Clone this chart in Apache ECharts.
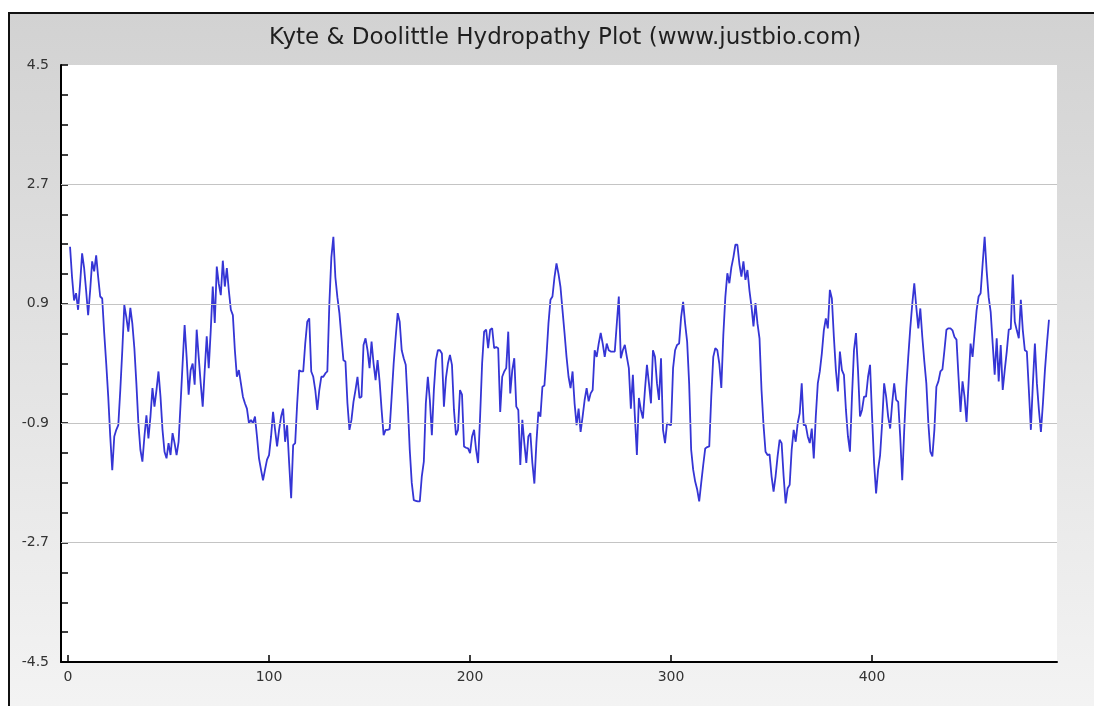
<!DOCTYPE html>
<html>
<head>
<meta charset="utf-8">
<script src="https://cdn.jsdelivr.net/npm/echarts@6/dist/echarts.min.js"></script>
<style>html,body{margin:0;padding:0;background:#fff}#c{width:1094px;height:706px}</style>
</head>
<body>
<div id="c"></div>
<script>
const TITLE = 'Kyte & Doolittle Hydropathy Plot (www.justbio.com)';
const START_POS = 1;
const xTickLabels = [0, 100, 200, 300, 400];
const yTickLabels = [-4.5, -2.7, -0.9, 0.9, 2.7, 4.5];
const yGridLines = [-2.7, -0.9, 0.9, 2.7];
const hydropathy = [
1.76,1.3,0.95,1.06,0.81,1.2,1.66,1.44,1.1,0.73,
1.1,1.54,1.39,1.63,1.3,1.01,0.98,0.46,0.0,-0.5,
-1.1,-1.61,-1.1,-1.0,-0.93,-0.4,0.2,0.88,0.7,0.48,
0.84,0.6,0.23,-0.3,-0.9,-1.3,-1.48,-1.1,-0.78,-1.13,
-0.8,-0.37,-0.65,-0.4,-0.12,-0.5,-1.0,-1.33,-1.43,-1.2,
-1.38,-1.05,-1.2,-1.38,-1.18,-0.6,0.0,0.58,0.1,-0.47,
-0.1,0.0,-0.32,0.51,0.1,-0.3,-0.65,-0.1,0.41,-0.07,
0.5,1.16,0.61,1.46,1.2,1.03,1.55,1.16,1.44,1.1,
0.81,0.73,0.2,-0.2,-0.1,-0.3,-0.5,-0.6,-0.68,-0.9,
-0.85,-0.9,-0.8,-1.1,-1.43,-1.6,-1.76,-1.6,-1.45,-1.38,
-1.1,-0.73,-1.0,-1.25,-1.0,-0.8,-0.68,-1.18,-0.93,-1.5,
-2.03,-1.23,-1.2,-0.6,-0.1,-0.12,-0.12,0.3,0.63,0.68,
-0.12,-0.2,-0.4,-0.7,-0.4,-0.2,-0.2,-0.15,-0.12,0.9,
1.6,1.91,1.3,1.0,0.76,0.4,0.05,0.03,-0.6,-1.0,
-0.85,-0.58,-0.4,-0.2,-0.52,-0.5,0.28,0.38,0.2,-0.07,
0.33,0.0,-0.25,0.05,-0.27,-0.7,-1.08,-1.0,-1.0,-0.99,
-0.5,0.0,0.4,0.76,0.63,0.2,0.08,-0.02,-0.6,-1.3,
-1.8,-2.06,-2.07,-2.08,-2.08,-1.7,-1.48,-0.6,-0.2,-0.55,
-1.08,-0.4,0.05,0.2,0.2,0.15,-0.65,-0.22,0.0,0.13,
-0.02,-0.7,-1.08,-1.0,-0.4,-0.47,-1.25,-1.27,-1.28,-1.35,
-1.1,-1.0,-1.3,-1.5,-0.8,0.0,0.48,0.51,0.23,0.51,
0.53,0.23,0.25,0.23,-0.73,-0.2,-0.12,-0.07,0.48,-0.45,
-0.1,0.08,-0.65,-0.7,-1.53,-0.85,-1.2,-1.5,-1.1,-1.05,
-1.5,-1.81,-1.2,-0.73,-0.8,-0.35,-0.33,0.1,0.6,0.96,
1.01,1.3,1.51,1.35,1.15,0.8,0.46,0.1,-0.2,-0.37,
-0.12,-0.6,-0.93,-0.68,-1.03,-0.8,-0.55,-0.37,-0.57,-0.45,
-0.4,0.2,0.1,0.3,0.46,0.3,0.1,0.3,0.2,0.18,
0.18,0.18,0.6,1.01,0.08,0.2,0.28,0.1,-0.07,-0.68,
-0.17,-0.8,-1.38,-0.52,-0.7,-0.83,-0.4,-0.02,-0.3,-0.6,
0.2,0.1,-0.3,-0.55,0.08,-1.0,-1.2,-0.9,-0.92,-0.93,
-0.07,0.2,0.28,0.3,0.7,0.93,0.6,0.33,-0.3,-1.3,
-1.6,-1.78,-1.9,-2.08,-1.8,-1.53,-1.28,-1.26,-1.25,-0.5,
0.1,0.23,0.2,0.0,-0.37,0.43,1.0,1.36,1.21,1.45,
1.6,1.79,1.79,1.5,1.31,1.54,1.26,1.41,1.1,0.86,
0.56,0.91,0.6,0.38,-0.4,-0.93,-1.33,-1.38,-1.37,-1.7,
-1.93,-1.7,-1.4,-1.15,-1.2,-1.7,-2.11,-1.88,-1.83,-1.3,
-1.0,-1.18,-0.9,-0.75,-0.3,-0.93,-0.93,-1.1,-1.2,-0.98,
-1.43,-0.8,-0.3,-0.12,0.15,0.5,0.68,0.53,1.11,0.98,
0.4,-0.1,-0.42,0.18,-0.1,-0.17,-0.7,-1.1,-1.33,-0.5,
0.2,0.46,-0.1,-0.8,-0.7,-0.5,-0.5,-0.2,-0.02,-0.8,
-1.5,-1.96,-1.6,-1.38,-0.9,-0.3,-0.5,-0.8,-0.98,-0.6,
-0.3,-0.55,-0.58,-1.1,-1.76,-1.0,-0.37,0.1,0.53,0.9,
1.21,0.85,0.53,0.83,0.4,0.03,-0.3,-0.9,-1.33,-1.4,
-1.0,-0.35,-0.27,-0.12,-0.09,0.2,0.51,0.53,0.53,0.5,
0.4,0.36,-0.2,-0.73,-0.27,-0.5,-0.88,-0.3,0.3,0.1,
0.46,0.8,1.01,1.06,1.5,1.91,1.4,1.0,0.78,0.3,
-0.17,0.38,-0.27,0.28,-0.4,-0.1,0.18,0.51,0.52,1.34,
0.63,0.5,0.38,0.96,0.5,0.2,0.18,-0.4,-1.0,-0.3,
0.3,-0.3,-0.7,-1.03,-0.6,-0.1,0.3,0.66
];

const seriesData = hydropathy.map((v, i) => [START_POS + i, v]);
const yMinorTicks = [];
for (let k = 0; k <= 20; k++) yMinorTicks.push(+(-4.5 + k * 0.45).toFixed(2));

const chart = echarts.init(document.getElementById('c'), null, {renderer: 'canvas'});
chart.setOption({
  animation: false,
  backgroundColor: 'transparent',
  graphic: [{
    type: 'rect', z: -100, silent: true,
    shape: {x: 9, y: 13, width: 1100, height: 710},
    style: {
      fill: new echarts.graphic.LinearGradient(0, 0, 0, 1, [
        {offset: 0, color: '#d2d2d2'},
        {offset: 1, color: '#f4f4f4'}
      ]),
      stroke: '#111', lineWidth: 2
    }
  }],
  title: {
    text: TITLE, left: 264, top: 22,
    textStyle: {fontFamily: 'DejaVu Sans', fontSize: 23, fontWeight: 'normal', color: '#1f1f1f'}
  },
  grid: {
    left: 61, right: 37, top: 65, bottom: 44,
    show: true, backgroundColor: '#ffffff', borderWidth: 0
  },
  xAxis: {
    type: 'value', min: -3.5, max: 492,
    axisLine: {show: true, onZero: false, lineStyle: {color: '#000', width: 2}},
    axisTick: {show: true, inside: true, length: 7, customValues: xTickLabels, lineStyle: {color: '#000', width: 1.5}},
    axisLabel: {customValues: xTickLabels, color: '#333', fontFamily: 'DejaVu Sans', fontSize: 14, margin: 8},
    splitLine: {show: false}
  },
  yAxis: {
    type: 'value', min: -4.5, max: 4.5,
    axisLine: {show: true, onZero: false, lineStyle: {color: '#000', width: 2}},
    axisTick: {show: true, inside: true, length: 7, customValues: yMinorTicks, lineStyle: {color: '#000', width: 1.5}},
    axisLabel: {customValues: yTickLabels, color: '#333', fontFamily: 'DejaVu Sans', fontSize: 14, margin: 12,
      formatter: v => (Math.round(v * 10) / 10).toFixed(1)},
    splitLine: {show: false}
  },
  series: [{
    type: 'line', data: seriesData, showSymbol: false, symbol: 'none',
    lineStyle: {color: '#3535d5', width: 1.8},
    markLine: {
      silent: true, symbol: 'none', animation: false,
      label: {show: false},
      lineStyle: {color: '#c4c4c4', width: 1, type: 'solid'},
      data: yGridLines.map(v => ({yAxis: v}))
    },
    z: 3
  }]
});
</script>
</body>
</html>
